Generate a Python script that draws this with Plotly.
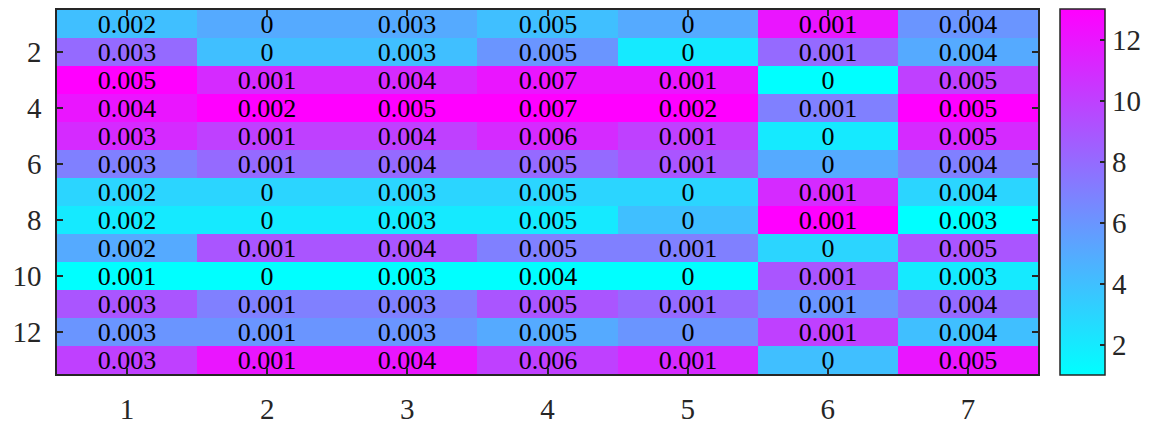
import plotly.graph_objects as go

# Column labels (x) and row labels (y)
cols = [1, 2, 3, 4, 5, 6, 7]
rows = list(range(1, 14))

# Displayed cell values (rows 1..13 for each column)
vals_c1 = ["0.002", "0.003", "0.005", "0.004", "0.003", "0.003", "0.002", "0.002", "0.002", "0.001", "0.003", "0.003", "0.003"]
vals_c2 = ["0", "0", "0.001", "0.002", "0.001", "0.001", "0", "0", "0.001", "0", "0.001", "0.001", "0.001"]
vals_c3 = ["0.003", "0.003", "0.004", "0.005", "0.004", "0.004", "0.003", "0.003", "0.004", "0.003", "0.003", "0.003", "0.004"]
vals_c4 = ["0.005", "0.005", "0.007", "0.007", "0.006", "0.005", "0.005", "0.005", "0.005", "0.004", "0.005", "0.005", "0.006"]
vals_c5 = ["0", "0", "0.001", "0.002", "0.001", "0.001", "0", "0", "0.001", "0", "0.001", "0", "0.001"]
vals_c6 = ["0.001", "0.001", "0", "0.001", "0", "0", "0.001", "0.001", "0", "0.001", "0.001", "0.001", "0"]
vals_c7 = ["0.004", "0.004", "0.005", "0.005", "0.005", "0.004", "0.004", "0.003", "0.005", "0.003", "0.004", "0.004", "0.005"]

# Colour values (rank within each column, 1..13)
rank_c1 = [4, 8, 13, 12, 11, 7, 3, 2, 5, 1, 9, 6, 10]
rank_c2 = [5, 4, 11, 13, 10, 8, 3, 2, 9, 1, 7, 6, 12]
rank_c3 = [5, 4, 11, 13, 10, 8, 3, 2, 9, 1, 7, 6, 12]
rank_c4 = [4, 6, 12, 13, 11, 8, 3, 2, 7, 1, 9, 5, 10]
rank_c5 = [5, 2, 12, 13, 10, 9, 3, 4, 7, 1, 8, 6, 11]
rank_c6 = [12, 8, 1, 7, 2, 5, 11, 13, 3, 9, 6, 10, 4]
rank_c7 = [6, 5, 10, 13, 11, 7, 3, 1, 9, 2, 8, 4, 12]

val_cols = [vals_c1, vals_c2, vals_c3, vals_c4, vals_c5, vals_c6, vals_c7]
rank_cols = [rank_c1, rank_c2, rank_c3, rank_c4, rank_c5, rank_c6, rank_c7]

z = [[rank_cols[j][i] for j in range(len(cols))] for i in range(len(rows))]
text = [[val_cols[j][i] for j in range(len(cols))] for i in range(len(rows))]

FONT = "Liberation Serif"
AXC = "#262626"

fig = go.Figure(go.Heatmap(
    x=cols, y=rows, z=z, text=text,
    texttemplate="%{text}",
    textfont=dict(family=FONT, size=26, color="black"),
    colorscale=[[0, "rgb(0,255,255)"], [1, "rgb(255,0,255)"]],
    zmin=1, zmax=13,
    colorbar=dict(
        thickness=45, thicknessmode="pixels",
        len=366, lenmode="pixels",
        x=1.0224, xanchor="left", xpad=0,
        y=0.5, yanchor="middle", ypad=0,
        outlinewidth=1.5, outlinecolor=AXC,
        ticks="inside", ticklen=5, tickcolor=AXC, tickwidth=1.5,
        tickvals=[2, 4, 6, 8, 10, 12],
        tickfont=dict(family=FONT, size=29, color=AXC),
    ),
))

fig.update_layout(
    width=1158, height=425,
    margin=dict(l=57, r=120, t=10, b=51, autoexpand=False),
    paper_bgcolor="white", plot_bgcolor="white",
    showlegend=False,
)
fig.update_xaxes(
    tickvals=cols, ticks="inside", ticklen=6, tickwidth=1.5, tickcolor=AXC,
    showline=True, linecolor=AXC, linewidth=1.5, mirror="ticks",
    showgrid=False, zeroline=False,
    tickfont=dict(family=FONT, size=29, color=AXC),
    ticklabelstandoff=8,
    range=[0.5, 7.5],
)
fig.update_yaxes(
    tickvals=[2, 4, 6, 8, 10, 12], ticks="inside", ticklen=6, tickwidth=1.5, tickcolor=AXC,
    showline=True, linecolor=AXC, linewidth=1.5, mirror="ticks",
    showgrid=False, zeroline=False,
    tickfont=dict(family=FONT, size=29, color=AXC),
    ticklabelstandoff=8,
    range=[13.5, 0.5],
)

fig.write_html("out.html")
